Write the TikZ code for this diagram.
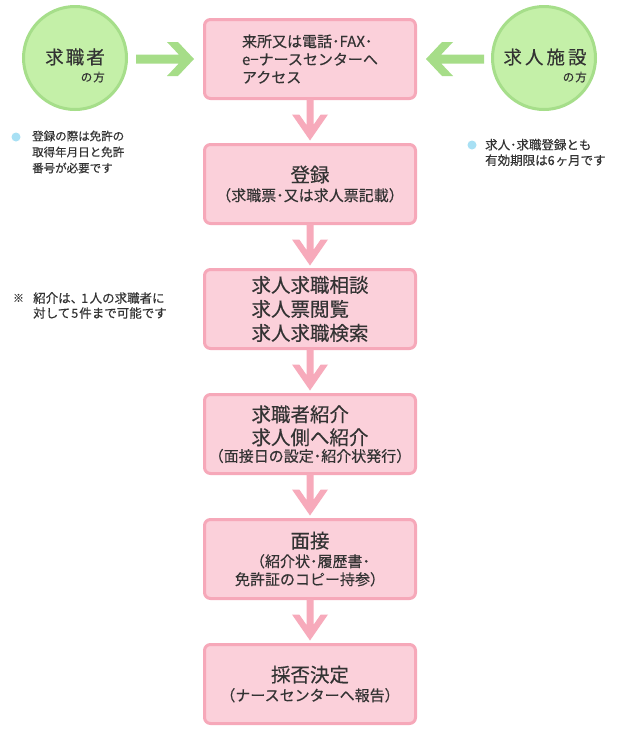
\documentclass[tikz,border=0pt]{standalone}
\usepackage{fontspec}
\setmainfont[FakeBold=0.35]{Noto Sans CJK JP}
\definecolor{boxfill}{HTML}{FBD0DA}
\definecolor{boxline}{HTML}{F6A8B9}
\definecolor{pinkarrow}{HTML}{F7AABB}
\definecolor{greenfill}{HTML}{C4F0A8}
\definecolor{greenline}{HTML}{A6DE8A}
\definecolor{greenarrow}{HTML}{A6DD88}
\definecolor{txt}{HTML}{333333}
\definecolor{dotblue}{HTML}{A8E0F4}
\newcommand{\bigtxt}{\fontsize{19.5}{24}\selectfont}
\newcommand{\smalltxt}{\fontsize{15}{18}\selectfont}
\tikzset{
  stepbox/.style={draw=boxline, fill=boxfill, line width=3pt, rounded corners=6pt,
    minimum width=211pt, minimum height=79pt, align=center, text=txt, inner sep=0pt},
  person/.style={circle, draw=greenline, fill=greenfill, line width=3pt,
    minimum size=103pt, inner sep=0pt},
  nametxt/.style={text=txt, inner sep=0pt, font=\fontsize{18.5}{22}\selectfont},
  subtxt/.style={text=txt, inner sep=0pt, anchor=east, font=\fontsize{11.5}{14}\selectfont},
  note/.style={anchor=west, align=left, text=txt, inner sep=0pt},
  dotmark/.style={circle, fill=dotblue, minimum size=9pt, inner sep=0pt},
  pics/downarrow/.style={code={
    \fill[pinkarrow] (-3.5,-42) -- (3.5,-42) -- (3.5,-15.6) -- (10.7,-26) -- (18,-26)
      -- (0,0) -- (-18,-26) -- (-10.7,-26) -- (-3.5,-15.6) -- cycle;}},
  pics/sidearrow/.style={code={
    \fill[greenarrow] (-58,-4.5) -- (-15.2,-4.5) -- (-27,-17) -- (-16,-17) -- (0,0)
      -- (-16,17) -- (-27,17) -- (-15.2,4.5) -- (-58,4.5) -- cycle;}},
}
\begin{document}
\begin{tikzpicture}[x=1pt,y=-1pt]
\useasboundingbox (0,0) rectangle (620,734);
\fill[white] (0,0) rectangle (620,734);

% step boxes
\node[stepbox, font=\smalltxt, align=left] (b1) at (310,59)
  {来所又は電話･FAX･\\e−ナースセンターへ\\アクセス};
\node[stepbox, font=\smalltxt] (b2) at (310,184)
  {{\bigtxt 登録}\\[1pt]（求職票･又は求人票記載）};
\node[stepbox, font=\bigtxt, align=left] (b3) at (310,309)
  {求人求職相談\\求人票閲覧\\求人求職検索};
\node[stepbox, font=\smalltxt] (b4) at (310,434)
  {{\bigtxt\begin{tabular}{@{}l@{}}求職者紹介\\[-1pt]求人側へ紹介\end{tabular}}\\[-4pt]（面接日の設定･紹介状発行）};
\node[stepbox, font=\smalltxt] (b5) at (310,559)
  {{\bigtxt 面接}\\[1pt]（紹介状･履歴書･\\免許証のコピー持参）};
\node[stepbox, font=\smalltxt] (b6) at (310,684)
  {{\bigtxt 採否決定}\\[1pt]（ナースセンターへ報告）};

% down arrows
\pic at ([yshift=2.5pt]b2.north) {downarrow};
\pic at ([yshift=2.5pt]b3.north) {downarrow};
\pic at ([yshift=2.5pt]b4.north) {downarrow};
\pic at ([yshift=2.5pt]b5.north) {downarrow};
\pic at ([yshift=2.5pt]b6.north) {downarrow};

% persons
\node[person] (c1) at (75,58) {};
\node[nametxt] (c1n) at (75,57) {求\kern2pt 職\kern2pt 者};
\node[subtxt] (c1s) at (105,77) {の\kern1pt 方};
\node[person] (c2) at (544,58) {};
\node[nametxt] (c2n) at (545,57) {求\kern3pt 人\kern3pt 施\kern3pt 設};
\node[subtxt] (c2s) at (587,77) {の\kern1pt 方};

% side arrows
\pic at ([xshift=-9pt]b1.west) {sidearrow};
\pic[xscale=-1] at ([xshift=9pt]b1.east) {sidearrow};

% notes
\node[dotmark] (d1) at (16,137) {};
\node[note, font=\fontsize{11.5}{16}\selectfont] (n1) at (32,152)
  {登録の際は免許の\\取得年月日と免許\\番号が必要です};
\node[dotmark] (d3) at (472,145) {};
\node[note, font=\fontsize{12.5}{15.5}\selectfont] (n3) at (485,152.5)
  {求人･求職登録とも\\有効期限は6\kern1ptヶ月です};
\node[text=txt, inner sep=0pt, font=\fontsize{11}{14}\selectfont] (n2m) at (18.5,298) {※};
\node[note, font=\fontsize{12.5}{15}\selectfont] (n2) at (33,305.5)
  {紹介は、\kern-2pt 1\kern1.5pt 人の求職者に\\対して\kern1pt 5\kern1pt 件まで可能です};
\end{tikzpicture}
\end{document}
